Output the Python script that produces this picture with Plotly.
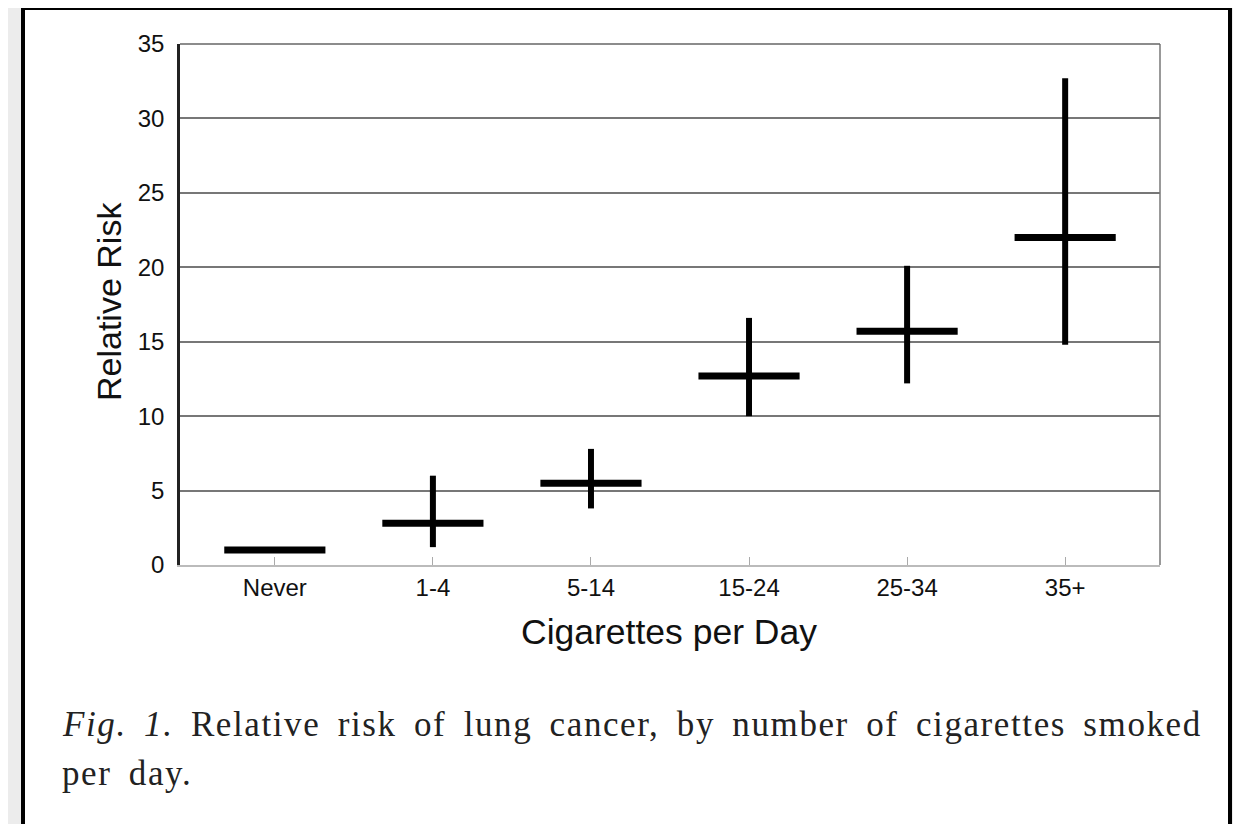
import plotly.graph_objects as go

categories = ["Never", "1-4", "5-14", "15-24", "25-34", "35+"]
relative_risk = [1.0, 2.8, 5.5, 12.7, 15.7, 22.0]
ci_upper = [1.0, 6.0, 7.8, 16.6, 20.1, 32.7]
ci_lower = [1.0, 1.2, 3.8, 10.0, 12.2, 14.8]
y_ticks = [0, 5, 10, 15, 20, 25, 30, 35]

x_idx = list(range(len(categories)))
err_plus = [u - v for u, v in zip(ci_upper, relative_risk)]
err_minus = [v - l for v, l in zip(relative_risk, ci_lower)]
half_width = [0.32] * len(categories)

fig = go.Figure()
fig.add_trace(go.Scatter(
    x=x_idx, y=relative_risk, mode="markers",
    marker=dict(size=1, color="black", opacity=0),
    error_y=dict(type="data", symmetric=False, array=err_plus, arrayminus=err_minus,
                 width=0, thickness=6, color="black"),
    error_x=dict(type="data", array=half_width, width=0, thickness=7, color="black"),
    showlegend=False, hoverinfo="skip",
))

OFF = 8  # page body margin
W, H = 1241 - OFF, 824 - OFF
SL, SR, ST, SB = 180, 1160, 44, 565
L, R, T, B = SL - OFF, SR - OFF, ST - OFF, SB - OFF


def px(xs):
    return (xs - SL) / (SR - SL)


def py(ys):
    return (SB - ys) / (SB - ST)


shapes = [
    dict(type="rect", xref="paper", yref="paper", x0=px(23), x1=px(1230), y0=py(860), y1=py(8),
         fillcolor="white", line=dict(color="black", width=4), layer="below"),
    dict(type="line", xref="paper", yref="paper", x0=1, x1=1, y0=0, y1=1,
         line=dict(color="#777777", width=1.5)),
    dict(type="line", xref="paper", yref="paper", x0=0, x1=1, y0=1, y1=1,
         line=dict(color="#666666", width=1.5)),
]

cap_style = "letter-spacing:1.6px;word-spacing:7px"
annotations = [
    dict(text="Relative Risk", xref="paper", yref="paper", x=px(109), y=py(302),
         xanchor="center", yanchor="middle",
         textangle=-90, showarrow=False, font=dict(family="Liberation Sans", size=34, color="#111111")),
    dict(text="Cigarettes per Day", xref="paper", yref="paper", x=px(669), y=py(632),
         xanchor="center", yanchor="middle",
         showarrow=False, font=dict(family="Liberation Sans", size=35.5, color="#111111")),
    dict(text=f"<span style='{cap_style}'><i>Fig. 1.</i> Relative risk of lung cancer, by number of cigarettes smoked</span>",
         xref="paper", yref="paper", x=px(60), y=py(724), xanchor="left", yanchor="middle",
         showarrow=False, font=dict(family="Liberation Serif", size=35, color="#222222")),
    dict(text=f"<span style='{cap_style}'>per day.</span>", xref="paper", yref="paper", x=px(60), y=py(773),
         xanchor="left", yanchor="middle", showarrow=False,
         font=dict(family="Liberation Serif", size=35, color="#222222")),
]

fig.update_layout(
    width=W, height=H,
    margin=dict(l=L, r=W - R, t=T, b=H - B, autoexpand=False),
    paper_bgcolor="#ececec", plot_bgcolor="white",
    shapes=shapes, annotations=annotations,
    xaxis=dict(range=[-0.6, 5.6], tickvals=x_idx, ticktext=categories,
               showgrid=False, zeroline=False, showline=True, linecolor="#bbbbbb", linewidth=1.5,
               ticks="inside", ticklen=8, tickcolor="#aaaaaa", tickwidth=1,
               tickfont=dict(family="Liberation Sans", size=24, color="#111111"),
               ticklabelstandoff=0),
    yaxis=dict(range=[0, 35], tickvals=y_ticks, showgrid=True, gridcolor="#777777", gridwidth=1.5,
               zeroline=False, showline=True, linecolor="#222222", linewidth=2.5,
               ticks="", tickfont=dict(family="Liberation Sans", size=24, color="#111111"),
               ticklabelstandoff=8),
)

fig.write_html("out.html")
